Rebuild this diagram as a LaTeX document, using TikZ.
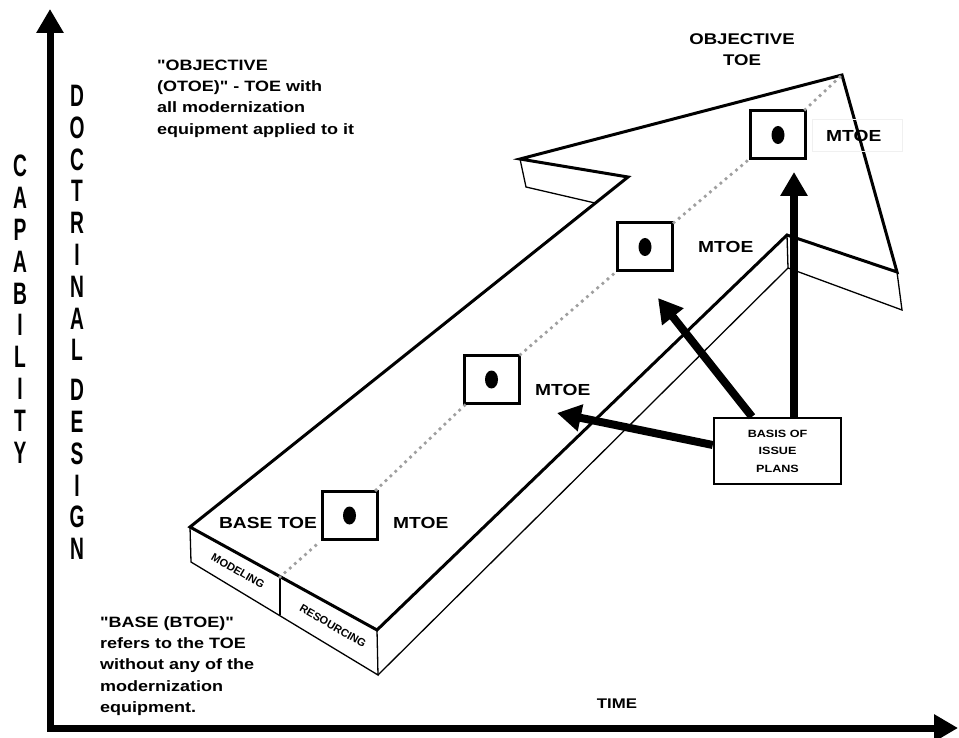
\documentclass[tikz,border=0pt]{standalone}
\usepackage{fontspec}
\setmainfont{Liberation Sans}
\newfontfamily\wfont{Liberation Sans}[FakeStretch=1.2]
\newfontfamily\cfont{Liberation Sans}[FakeStretch=0.62]
\usetikzlibrary{arrows.meta}
\begin{document}
\begin{tikzpicture}[x=1pt,y=-1pt,
  thickline/.style={line width=3pt, line join=miter},
  thinline/.style={line width=1.3pt},
  axisline/.style={line width=7pt, line join=miter},
  ptr/.style={line width=8pt, -{Triangle[length=24pt,width=26pt]}},
  dotline/.style={draw=gray!75, line width=3.8pt, line cap=round, dash pattern=on 0pt off 6.8pt},
  mbox/.style={draw, line width=3pt, fill=white, minimum width=55pt, minimum height=48pt, inner sep=0},
  lbl/.style={font=\wfont\bfseries\fontsize{16}{18}\selectfont, inner sep=0},
  note/.style={font=\wfont\bfseries\fontsize{15}{21.4}\selectfont, inner sep=0, align=left},
  vlbl/.style={font=\cfont\bfseries\fontsize{31}{31.8}\selectfont, inner sep=0, align=center},
  facelbl/.style={font=\bfseries\fontsize{11}{12}\selectfont, inner sep=0, rotate=-30},
  basisbox/.style={draw, line width=2.5pt, fill=white, minimum width=127pt, minimum height=66pt, inner sep=0, align=center, font=\wfont\bfseries\fontsize{10.5}{17.5}\selectfont}
]
\useasboundingbox (0,0) rectangle (959,738);

% axes
\coordinate (ytip) at (50,9);
\coordinate (corner) at (50,728);
\coordinate (xtip) at (958,728);
\draw[axisline, {Triangle[length=24pt,width=26pt]}-{Triangle[length=24pt,width=26pt]}] (ytip) -- (corner) -- (xtip);

% axis labels
\node[vlbl, anchor=north] (capab) at (20,155) {C\\A\\P\\A\\B\\I\\L\\I\\T\\Y};
\node[vlbl, anchor=north] (doctr) at (77,85) {D\\O\\C\\T\\R\\I\\N\\A\\L\\[8pt]D\\E\\S\\I\\G\\N};
\node[lbl, font=\wfont\bfseries\fontsize{14}{16}\selectfont, anchor=base] (time) at (617,708) {TIME};

% 3D arrow coordinates
\coordinate (A) at (190,527);
\coordinate (B) at (377,630);
\coordinate (C) at (787,235);
\coordinate (D) at (897,272);
\coordinate (T) at (842,75);
\coordinate (E) at (520,159);
\coordinate (F) at (628,177);
\coordinate (A2) at (191,562);
\coordinate (B2) at (378,675);
\coordinate (C2) at (788,268);
\coordinate (D2) at (902,310);
\coordinate (E2) at (526,187);
\coordinate (F2) at (595,203);
\coordinate (M1) at (280,577);
\coordinate (M2) at (280,615);

\fill[white] (A) -- (B) -- (C) -- (D) -- (T) -- (E) -- (F) -- cycle;
\draw[thinline] (A) -- (A2) -- (B2) -- (B);
\draw[thinline] (B2) -- (C2) -- (C);
\draw[thinline] (C2) -- (D2) -- (D);
\draw[thinline] (E) -- (E2) -- (F2);
\draw[thinline] (M1) -- (M2);
\draw[thickline] (A) -- (B) -- (C) -- (D) -- (T) -- (E) -- (F) -- cycle;

\node[facelbl] (model) at (238,571) {MODELING};
\node[facelbl] (resrc) at (333,626) {RESOURCING};

% boxes
\node[mbox] (b1) at (349.5,515.5) {};
\node[mbox] (b2) at (491.5,379.5) {};
\node[mbox] (b3) at (645,247) {};
\node[mbox] (b4) at (778,135) {};
\draw[dotline] (M1) -- (b1);
\draw[dotline] (b1) -- (b2);
\draw[dotline] (b2) -- (b3);
\draw[dotline] (b3) -- (b4);
\draw[dotline] (b4) -- (T);
\foreach \b in {b1,b2,b3,b4} {\fill (\b.center) ellipse [x radius=6.5, y radius=9];}

% labels
\node[lbl, anchor=base] (basetoe) at (268,528) {BASE TOE};
\node[lbl, anchor=base west] (m1) at (393,528) {MTOE};
\node[lbl, anchor=base west] (m2) at (535,395) {MTOE};
\node[lbl, anchor=base west] (m3) at (698,253) {MTOE};
\node[lbl, anchor=base west] (m4) at (826,142) {MTOE};
\draw[gray!12, line width=1pt] (812,120) rectangle (902,152);
\node[lbl, font=\wfont\bfseries\fontsize{15.5}{21}\selectfont, align=center, anchor=north] (objtoe) at (742,33) {OBJECTIVE\\TOE};

\node[note, anchor=north west] (otoe) at (157,59.5) {"OBJECTIVE\\(OTOE)" - TOE with\\all modernization\\equipment applied to it};
\node[note, anchor=north west] (btoe) at (100,616) {"BASE (BTOE)"\\refers to the TOE\\without any of the\\modernization\\equipment.};

% basis of issue plans
\node[basisbox] (basis) at (777.5,451) {BASIS OF\\ISSUE\\PLANS};
\coordinate (t1) at (794,172);
\coordinate (t2) at (658,298);
\coordinate (t3) at (557,413);
\coordinate (s2) at (752,417);
\coordinate (s3) at (713,445);
\draw[ptr] (basis.north -| t1) -- (t1);
\draw[ptr] (basis.north -| s2) -- (t2);
\draw[ptr] (basis.west |- s3) -- (t3);
\end{tikzpicture}
\end{document}
